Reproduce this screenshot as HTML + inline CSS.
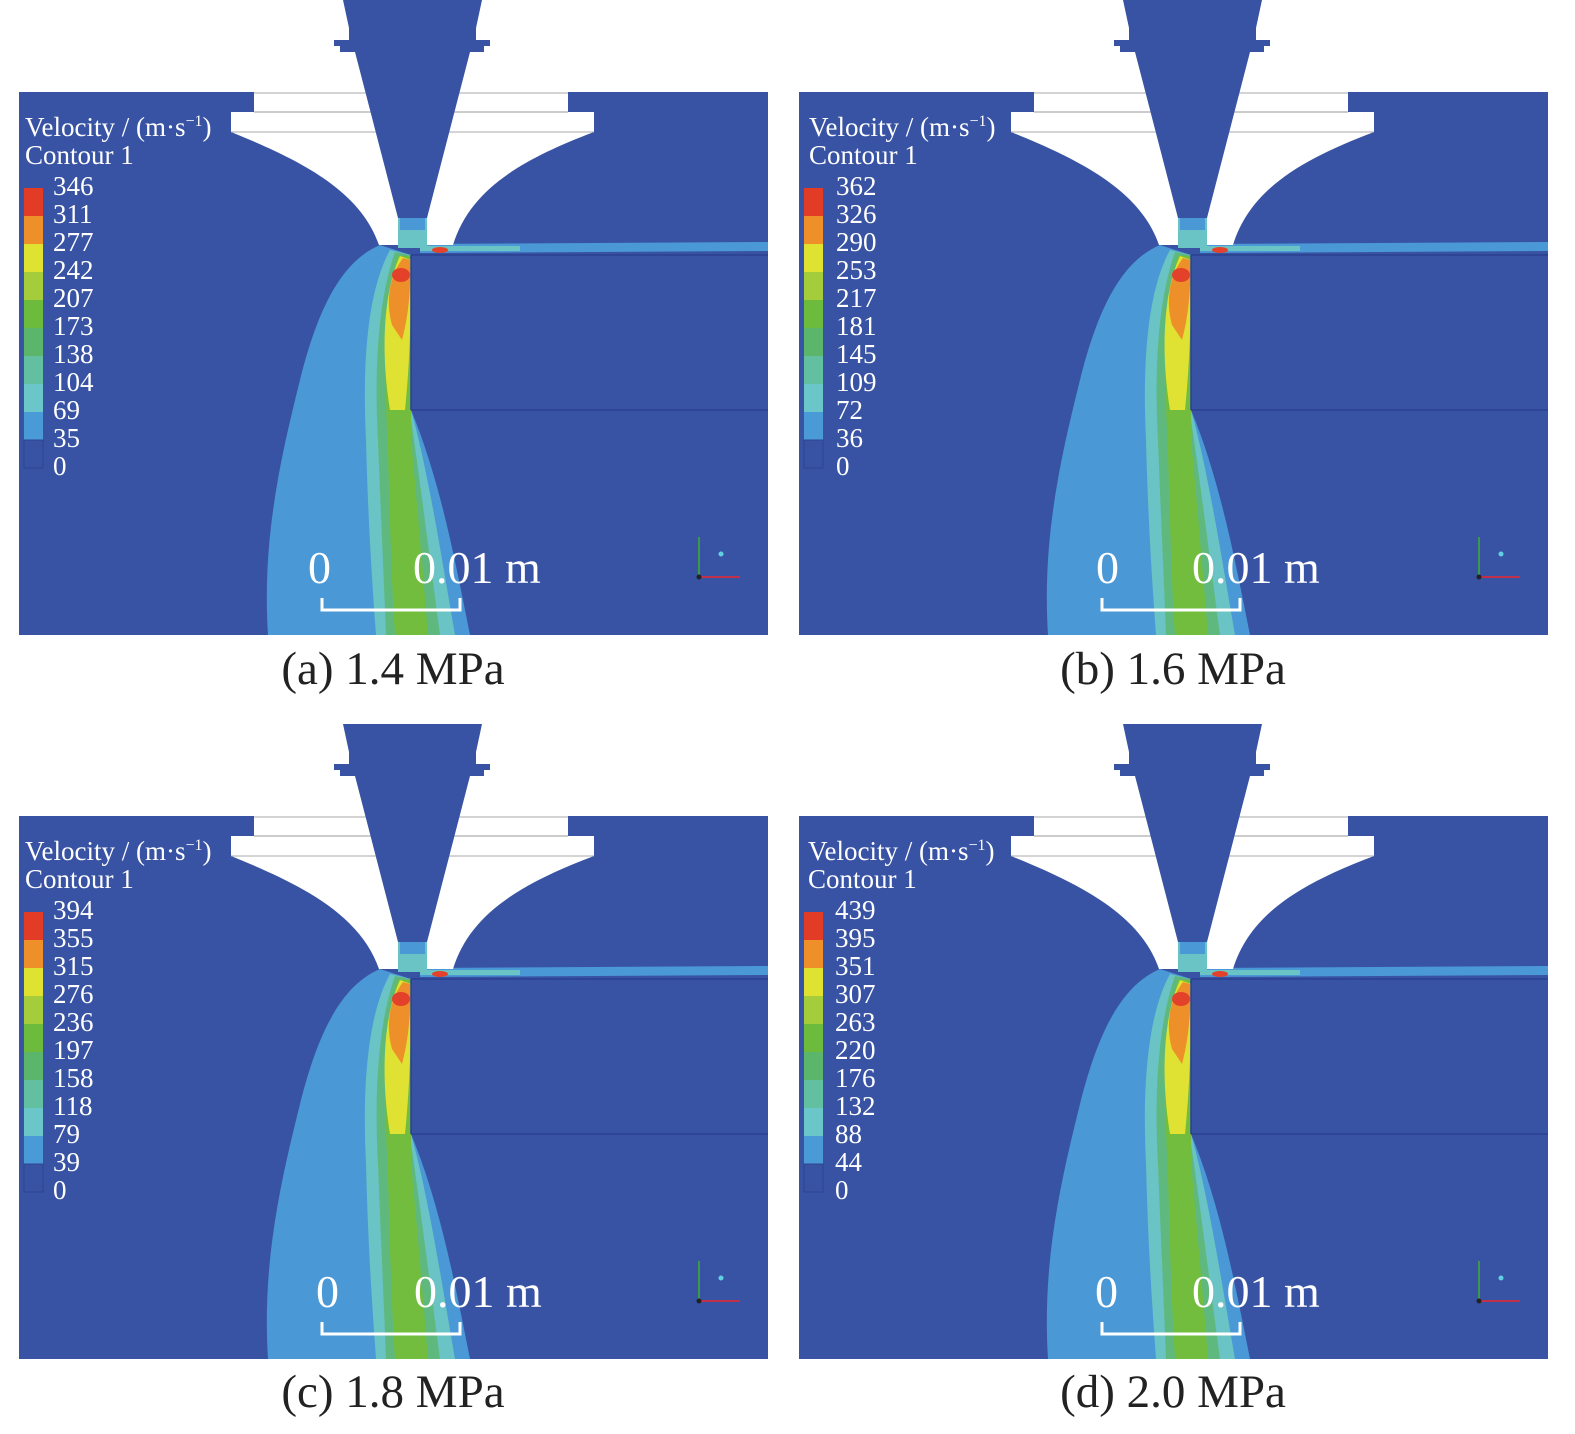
<!DOCTYPE html>
<html><head><meta charset="utf-8"><style>
html,body{margin:0;padding:0;background:#fff}
svg text{font-family:"Liberation Serif",serif}
</style></head><body>
<svg width="1575" height="1429" viewBox="0 0 1575 1429" xmlns="http://www.w3.org/2000/svg">
<defs>
<g id="panel">
  <rect x="19" y="92" width="749" height="543" fill="#3953a4"/>
  <path d="M380,245 C345,260 320,300 300,380 C280,460 262,540 268,635 L470,635 C455,560 440,480 411,410 L411,255 Z" fill="#4b98d6"/>
  <path d="M390,250 C368,290 362,360 366,440 C368,520 372,580 376,635 L455,635 C442,560 428,470 411,410 L411,255 Z" fill="#6ac3c4"/>
  <path d="M395,252 C378,300 374,370 378,440 C381,520 384,580 386,635 L440,635 C430,560 420,480 411,420 L411,255 Z" fill="#5fb97e"/>
  <path d="M398,256 C384,300 384,380 388,450 C390,530 392,590 395,635 L428,635 C422,560 415,480 411,440 L411,256 Z" fill="#72bd3e"/>
  <path d="M400,256 C384,290 380,350 390,410 L405,410 C411,350 411,300 411,260 Z" fill="#dfe232"/>
  <path d="M403,258 C390,275 385,300 392,325 L402,340 C410,310 411,280 410,260 Z" fill="#ee902a"/>
  <ellipse cx="401" cy="275" rx="9" ry="7" fill="#e3412a"/>
  <path d="M420,244 L768,242 L768,251 L420,253 Z" fill="#4b98d6"/>
  <path d="M420,246 L520,246 L520,251 L420,251 Z" fill="#6ac3c4"/>
  <ellipse cx="440" cy="250" rx="8" ry="3" fill="#e3412a"/>
  <line x1="411" y1="255" x2="768" y2="255" stroke="#2b4190" stroke-width="1.5"/>
  <line x1="411" y1="255" x2="411" y2="410" stroke="#2b4190" stroke-width="1.5"/>
  <line x1="411" y1="410" x2="768" y2="410" stroke="#2b4190" stroke-width="1.5"/>
  <path d="M254,92 L568,92 L568,112 L594,112 L594,132 C520,160 470,190 453,245 L379,245 C360,190 300,160 231,132 L231,112 L254,112 Z" fill="#fff"/>
  <line x1="254" y1="93" x2="568" y2="93" stroke="#aaa" stroke-width="1"/>
  <line x1="254" y1="112" x2="568" y2="112" stroke="#999" stroke-width="1"/>
  <line x1="231" y1="132" x2="594" y2="132" stroke="#aaa" stroke-width="1"/>
  <rect x="398" y="218" width="29" height="30" fill="#6ac3c4"/>
  <rect x="400" y="218" width="25" height="12" fill="#4b98d6"/>
  <path d="M343,0 L482,0 L476,28 L476,40 L490,40 L490,46 L484,46 L484,52 L470,52 L427,218 L398,218 L355,52 L340,52 L340,46 L334,46 L334,40 L349,40 L349,28 Z" fill="#3953a4"/>
  <rect x="24" y="188" width="19" height="28" fill="#e23c26"/>
  <rect x="24" y="216" width="19" height="28" fill="#ee8f2a"/>
  <rect x="24" y="244" width="19" height="28" fill="#dfe231"/>
  <rect x="24" y="272" width="19" height="28" fill="#a5cc3a"/>
  <rect x="24" y="300" width="19" height="28" fill="#6cbb3c"/>
  <rect x="24" y="328" width="19" height="28" fill="#5bb56a"/>
  <rect x="24" y="356" width="19" height="28" fill="#62c0a0"/>
  <rect x="24" y="384" width="19" height="28" fill="#6ac6c9"/>
  <rect x="24" y="412" width="19" height="28" fill="#4a9ad8"/>
  <rect x="24" y="440" width="19" height="28" fill="#3953a4" stroke="#2d4590" stroke-width="1"/>
  <line x1="699" y1="577" x2="699" y2="537" stroke="#3a9a4a" stroke-width="2"/>
  <line x1="699" y1="577" x2="740" y2="577" stroke="#c0304a" stroke-width="2"/>
  <circle cx="721" cy="554" r="2.5" fill="#5fd0e0"/>
  <circle cx="699" cy="577" r="2.5" fill="#222"/>
  <path d="M322,598 L322,610 L460,610 L460,598" fill="none" stroke="#fff" stroke-width="3"/>
</g>
</defs>

<use href="#panel"/>
<use href="#panel" x="780"/>
<use href="#panel" y="724"/>
<use href="#panel" x="780" y="724"/>

<g fill="#fff" font-size="27">
  <text x="25" y="136">Velocity / (m·s<tspan font-size="16" dy="-10">−1</tspan><tspan dy="10">)</tspan></text>
  <text x="25" y="164">Contour 1</text>
  <text x="809" y="136">Velocity / (m·s<tspan font-size="16" dy="-10">−1</tspan><tspan dy="10">)</tspan></text>
  <text x="809" y="164">Contour 1</text>
  <text x="25" y="860">Velocity / (m·s<tspan font-size="16" dy="-10">−1</tspan><tspan dy="10">)</tspan></text>
  <text x="25" y="888">Contour 1</text>
  <text x="808" y="860">Velocity / (m·s<tspan font-size="16" dy="-10">−1</tspan><tspan dy="10">)</tspan></text>
  <text x="808" y="888">Contour 1</text>
</g>
<g fill="#fff" font-size="27">
  <g transform="translate(53,195)">
    <text y="0">346</text><text y="28">311</text><text y="56">277</text><text y="84">242</text><text y="112">207</text><text y="140">173</text><text y="168">138</text><text y="196">104</text><text y="224">69</text><text y="252">35</text><text y="280">0</text>
  </g>
  <g transform="translate(836,195)">
    <text y="0">362</text><text y="28">326</text><text y="56">290</text><text y="84">253</text><text y="112">217</text><text y="140">181</text><text y="168">145</text><text y="196">109</text><text y="224">72</text><text y="252">36</text><text y="280">0</text>
  </g>
  <g transform="translate(53,919)">
    <text y="0">394</text><text y="28">355</text><text y="56">315</text><text y="84">276</text><text y="112">236</text><text y="140">197</text><text y="168">158</text><text y="196">118</text><text y="224">79</text><text y="252">39</text><text y="280">0</text>
  </g>
  <g transform="translate(835,919)">
    <text y="0">439</text><text y="28">395</text><text y="56">351</text><text y="84">307</text><text y="112">263</text><text y="140">220</text><text y="168">176</text><text y="196">132</text><text y="224">88</text><text y="252">44</text><text y="280">0</text>
  </g>
</g>
<g fill="#fff" font-size="46">
  <text x="308" y="583">0</text><text x="413" y="583">0.01 m</text>
  <text x="1096" y="583">0</text><text x="1192" y="583">0.01 m</text>
  <text x="316" y="1307">0</text><text x="414" y="1307">0.01 m</text>
  <text x="1095" y="1307">0</text><text x="1192" y="1307">0.01 m</text>
</g>
<g fill="#222" font-size="47" text-anchor="middle">
  <text x="393" y="684">(a) 1.4 MPa</text>
  <text x="1173" y="684">(b) 1.6 MPa</text>
  <text x="393" y="1407">(c) 1.8 MPa</text>
  <text x="1173" y="1407">(d) 2.0 MPa</text>
</g>
</svg>
</body></html>
